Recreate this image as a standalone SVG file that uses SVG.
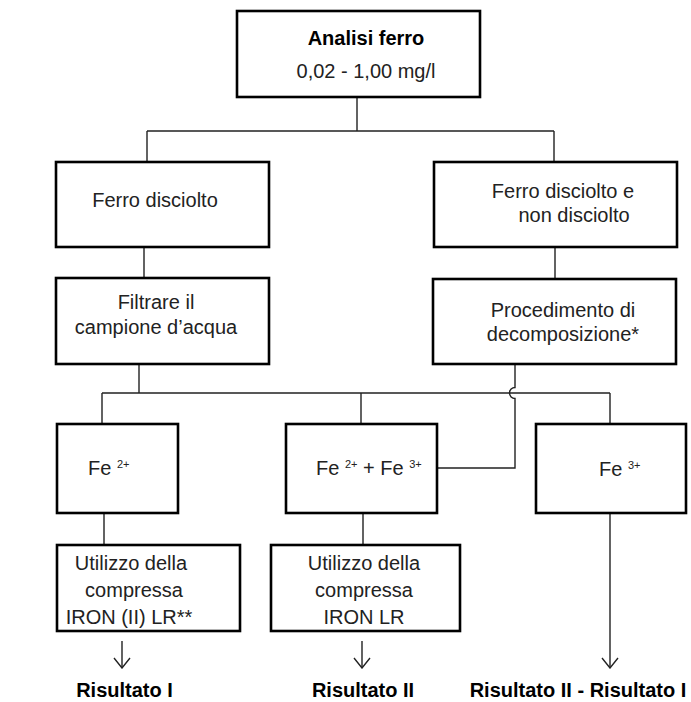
<svg xmlns="http://www.w3.org/2000/svg" width="691" height="702" viewBox="0 0 691 702">
<style>
.box{fill:#fff;stroke:#000;stroke-width:2.6}
.ln{fill:none;stroke:#222;stroke-width:1.4}
.t{font-family:"Liberation Sans",Arial,sans-serif;font-size:20px;fill:#222;text-anchor:middle}
.tb{font-family:"Liberation Sans",Arial,sans-serif;font-size:20px;font-weight:bold;fill:#000;text-anchor:middle}
.ts{font-family:"Liberation Sans",Arial,sans-serif;font-size:20px;fill:#222}
.sup{font-size:11px}
</style>
<defs>
<marker id="ah" viewBox="0 0 12 18" refX="11" refY="9" markerWidth="12" markerHeight="18" markerUnits="userSpaceOnUse" orient="auto">
<path d="M1,1 L11,9 L1,17" fill="none" stroke="#222" stroke-width="1.4"/>
</marker>
</defs>
<rect width="691" height="702" fill="#fff"/>
<g id="connectors">
<path class="ln" d="M357,97 V131 M147,131 H554 M147,131 V162 M554,131 V162"/>
<path class="ln" d="M144,247 V278 M555,247 V279"/>
<path class="ln" d="M139,364 V393 M102,393 H610 M102,393 V424 M361,393 V424 M610,393 V424"/>
<path class="ln" d="M515,364 V387.5 A5.5,5.5 0 0 0 515,398.5 V468 H437"/>
<path class="ln" d="M104,513 V545 M363,513 V545"/>
<path class="ln" d="M122,641 V668" marker-end="url(#ah)"/>
<path class="ln" d="M362,641 V668" marker-end="url(#ah)"/>
<path class="ln" d="M610,513 V668" marker-end="url(#ah)"/>
</g>
<g id="n_analisi">
<rect class="box" x="237" y="11" width="243" height="86"/>
<text class="tb" x="366" y="45">Analisi ferro</text>
<text class="t" x="366" y="78">0,02 - 1,00 mg/l</text>
</g>
<g id="n_disciolto">
<rect class="box" x="56" y="162" width="213" height="85"/>
<text class="t" x="155" y="207">Ferro disciolto</text>
</g>
<g id="n_disciolto_non">
<rect class="box" x="434" y="162" width="243" height="85"/>
<text class="t" x="563" y="198">Ferro disciolto e</text>
<text class="t" x="574" y="222">non disciolto</text>
</g>
<g id="n_filtrare">
<rect class="box" x="56" y="278" width="213" height="86"/>
<text class="t" x="156" y="309">Filtrare il</text>
<text class="t" x="156" y="334">campione d’acqua</text>
</g>
<g id="n_procedimento">
<rect class="box" x="433" y="279" width="243" height="85"/>
<text class="t" x="563" y="317">Procedimento di</text>
<text class="t" x="563" y="341">decomposizione*</text>
</g>
<g id="n_fe2">
<rect class="box" x="57" y="424" width="121" height="89"/>
<text class="ts" x="88" y="475">Fe <tspan class="sup" dy="-7">2+</tspan></text>
</g>
<g id="n_fe23">
<rect class="box" x="286" y="424" width="151" height="89"/>
<text class="ts" x="316" y="475">Fe <tspan class="sup" dy="-7">2+</tspan><tspan dy="7"> + Fe </tspan><tspan class="sup" dy="-7">3+</tspan></text>
</g>
<g id="n_fe3">
<rect class="box" x="536" y="424" width="150" height="89"/>
<text class="ts" x="599" y="476">Fe <tspan class="sup" dy="-7">3+</tspan></text>
</g>
<g id="n_iron2">
<rect class="box" x="57" y="545" width="183" height="86"/>
<text class="t" x="131" y="570">Utilizzo della</text>
<text class="t" x="134" y="597">compressa</text>
<text class="t" x="129" y="624">IRON (II) LR**</text>
</g>
<g id="n_iron">
<rect class="box" x="271" y="545" width="189" height="86"/>
<text class="t" x="364" y="570">Utilizzo della</text>
<text class="t" x="364" y="597">compressa</text>
<text class="t" x="364" y="624">IRON LR</text>
</g>
<g id="n_ris1"><text class="tb" x="124.5" y="697">Risultato I</text></g>
<g id="n_ris2"><text class="tb" x="363" y="697">Risultato II</text></g>
<g id="n_ris3"><text class="tb" x="578" y="697" font-size="19.5">Risultato II - Risultato I</text></g>
</svg>
